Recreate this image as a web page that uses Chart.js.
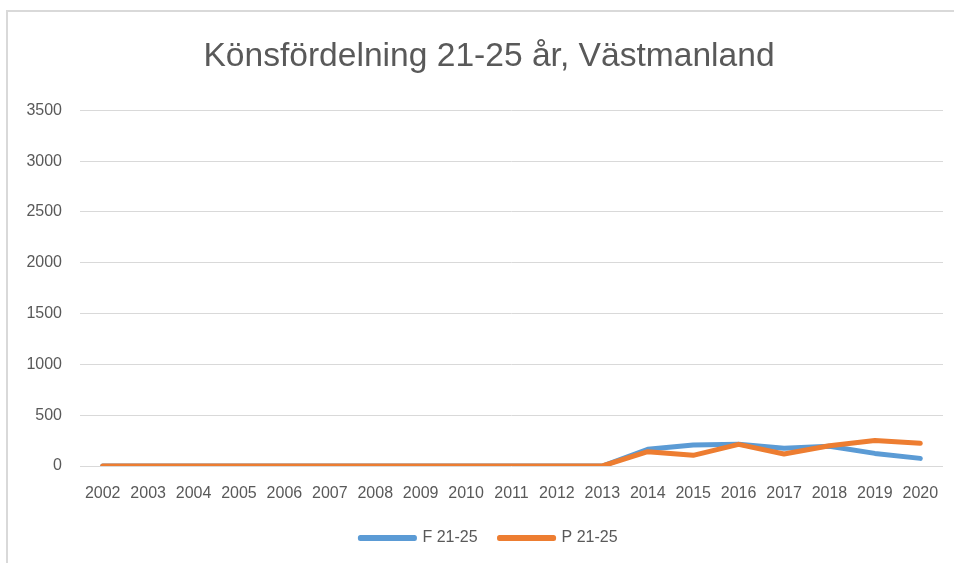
<!DOCTYPE html>
<html>
<head>
<meta charset="utf-8">
<script src="https://cdn.jsdelivr.net/npm/chart.js@4/dist/chart.umd.min.js"></script>
<style>
	html, body { margin: 0; padding: 0; background: #fff; overflow: hidden; }
	body { width: 954px; height: 563px; position: relative; }
	#frame {
		position: absolute; left: 6px; top: 10px; width: 1000px; height: 600px;
		border-left: 2px solid #d9d9d9; border-top: 2px solid #d9d9d9;
	}
	#chart { position: absolute; left: 0; top: 0; }
</style>
</head>
<body>
<div id="frame"></div>
<canvas id="chart" width="978" height="563"></canvas>
<script>
// Chart data
const years = ["2002", "2003", "2004", "2005", "2006", "2007", "2008", "2009", "2010", "2011",
	"2012", "2013", "2014", "2015", "2016", "2017", "2018", "2019", "2020"];
const seriesF = [0, 0, 0, 0, 0, 0, 0, 0, 0, 0, 0, 0, 164, 207, 213, 174, 195, 124, 75];
const seriesP = [0, 0, 0, 0, 0, 0, 0, 0, 0, 0, 0, 0, 141, 105, 213, 118, 200, 250, 223];
const labelF = "F 21-25";
const labelP = "P 21-25";
const chartTitle = "Könsfördelning 21-25 år, Västmanland";

const textColor = "#595959";
const blue = "#5B9BD5";
const orange = "#ED7D31";
const font = "'Liberation Sans', Arial, sans-serif";

let ctx = document.getElementById("chart").getContext("2d");

let chart = new Chart(ctx, {
	type: "line",
	data: {
		labels: years,
		datasets: [
			{
				label: labelF,
				data: seriesF,
				borderColor: blue,
				backgroundColor: blue,
				order: 1
			},
			{
				label: labelP,
				data: seriesP,
				borderColor: orange,
				backgroundColor: orange,
				order: 0
			}
		]
	},
	options: {
		responsive: false,
		animation: false,
		layout: {
			padding: { left: 0, right: 0, top: 0, bottom: 7 }
		},
		elements: {
			line: { borderWidth: 5, tension: 0, borderCapStyle: "round", borderJoinStyle: "round" },
			point: { radius: 0, hoverRadius: 0 }
		},
		scales: {
			x: {
				offset: true,
				grid: { display: false },
				border: { display: false },
				ticks: {
					color: textColor,
					font: { family: font, size: 16 },
					padding: 10,
					maxRotation: 0,
					autoSkip: false
				},
				afterFit(scale) { scale.height = 42; }
			},
			y: {
				min: 0,
				max: 3500,
				ticks: {
					stepSize: 500,
					color: textColor,
					font: { family: font, size: 16 },
					padding: 18,
					callback: (v) => String(v)
				},
				grid: { color: "#d9d9d9", lineWidth: 1, drawTicks: false },
				border: { display: false },
				afterFit(scale) { scale.width = 80; }
			},
			y2: {
				position: "right",
				grid: { display: false },
				border: { display: false },
				ticks: { display: false },
				afterFit(scale) { scale.width = 35; }
			}
		},
		plugins: {
			title: {
				display: true,
				text: chartTitle,
				color: textColor,
				font: { family: font, size: 33.6, weight: "normal" },
				padding: { top: 37, bottom: 33 }
			},
			legend: {
				display: true,
				position: "bottom",
				labels: {
					color: textColor,
					font: { family: font, size: 16 },
					boxWidth: 54,
					boxHeight: 1,
					padding: 22,
					generateLabels(c) {
						return c.data.datasets.map((ds, i) => ({
							text: ds.label,
							fillStyle: ds.borderColor,
							strokeStyle: ds.borderColor,
							lineWidth: 5,
							lineJoin: "round",
							fontColor: textColor,
							hidden: false,
							datasetIndex: i
						}));
					}
				}
			},
			tooltip: { enabled: false }
		}
	}
});
</script>
</body>
</html>
